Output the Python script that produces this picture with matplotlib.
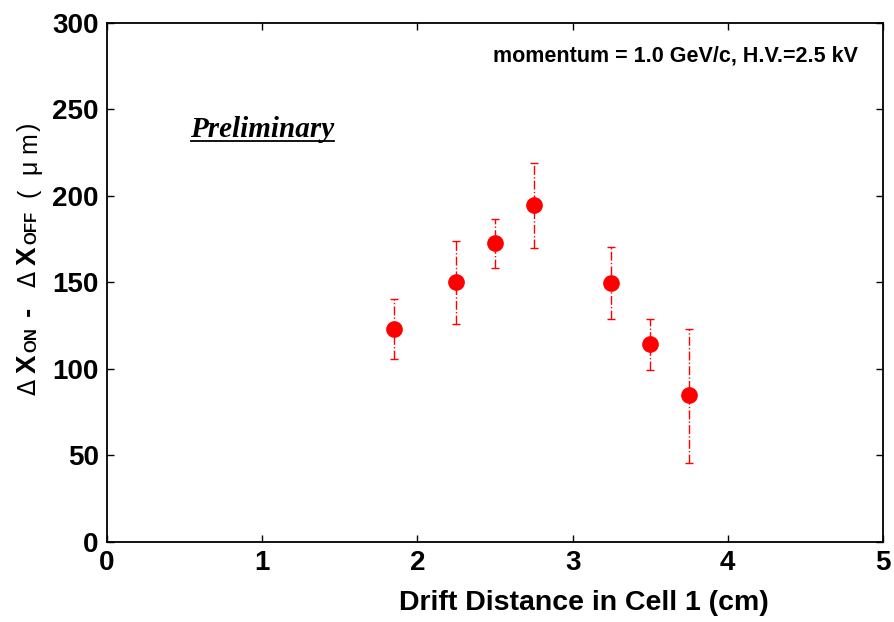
import matplotlib
matplotlib.use("Agg")
import matplotlib.pyplot as plt
from matplotlib.lines import Line2D

# Data
drift_cm = [1.85, 2.25, 2.5, 2.75, 3.25, 3.5, 3.75]
delta_um = [123.3, 150.2, 172.5, 194.4, 149.6, 114.4, 84.8]
err_up = [17.1, 23.9, 14.0, 24.4, 21.0, 14.4, 38.3]
err_down = [17.3, 24.4, 14.4, 24.4, 20.8, 15.0, 39.0]
xticks = [0, 1, 2, 3, 4, 5]
yticks = [0, 50, 100, 150, 200, 250, 300]

plt.rcParams['font.family'] = ['Liberation Sans', 'DejaVu Sans']

fig = plt.figure(figsize=(8.94, 6.22), dpi=100)
ax = fig.add_axes([107/894, 80/622, (883-107)/894, (542-22.7)/622])

eb = ax.errorbar(drift_cm, delta_um, yerr=[err_down, err_up], fmt='o', color='red',
                 ecolor='red', markersize=11, elinewidth=1.0, capsize=3, capthick=1.0,
                 zorder=3)
for lc in eb[2]:
    lc.set_linestyle('-.')

ax.set_xlim(0, 5)
ax.set_ylim(0, 300)
ax.set_xticks(xticks)
ax.set_yticks(yticks)
ax.tick_params(direction='in', top=True, right=True, length=5, width=1,
               labelsize=20, pad=6)
for lab in ax.get_xticklabels() + ax.get_yticklabels():
    lab.set_fontweight('bold')
for s in ax.spines.values():
    s.set_linewidth(1.3)

ax.set_xlabel('Drift Distance in Cell 1 (cm)', fontsize=20.5, fontweight='bold')
ax.xaxis.set_label_coords(0.615, -0.093)

ax.text(0.968, 0.935, 'momentum = 1.0 GeV/c, H.V.=2.5 kV', transform=ax.transAxes,
        ha='right', va='center', fontsize=15.5, fontweight='bold')

prel_pos = (0.107, 0.780)
prel = ax.text(prel_pos[0], prel_pos[1], 'Preliminary', transform=ax.transAxes, ha='left',
               va='baseline', fontsize=21, fontweight='bold', fontstyle='italic',
               family='Liberation Serif')

fig.canvas.draw()
renderer = fig.canvas.get_renderer()
bb = prel.get_window_extent(renderer)
base_y = ax.transAxes.transform(prel_pos)[1]
fig.add_artist(Line2D([bb.x0 + 1, bb.x1], [base_y - 4, base_y - 4], transform=None,
                      color='black', linewidth=1.3))

# Y label built piecewise (rotated); positions are pixel offsets from top (bottom edge of piece)
pieces = [
    ('\u0394', 17, 'normal', 'DejaVu Sans', 395),
    ('X', 20, 'bold', 'Liberation Sans', 373),
    ('ON', 12, 'bold', 'Liberation Sans', 352),
    ('-', 20, 'bold', 'Liberation Sans', 316),
    ('\u0394', 17, 'normal', 'DejaVu Sans', 287),
    ('X', 20, 'bold', 'Liberation Sans', 265),
    ('OFF', 12, 'bold', 'Liberation Sans', 244),
    ('(', 18, 'normal', 'Liberation Sans', 197),
    ('\u03bc', 18, 'normal', 'Liberation Sans', 174),
    ('m', 18, 'normal', 'Liberation Sans', 153),
    (')', 18, 'normal', 'Liberation Sans', 131),
]
xb = 36
for txt, fs, fw, fam, ybot in pieces:
    fig.text(xb, 622 - ybot, txt, transform=None, rotation=90, rotation_mode='anchor',
             ha='left', va='baseline', fontsize=fs, fontweight=fw, family=fam)

fig.savefig('out.png', dpi=100)
